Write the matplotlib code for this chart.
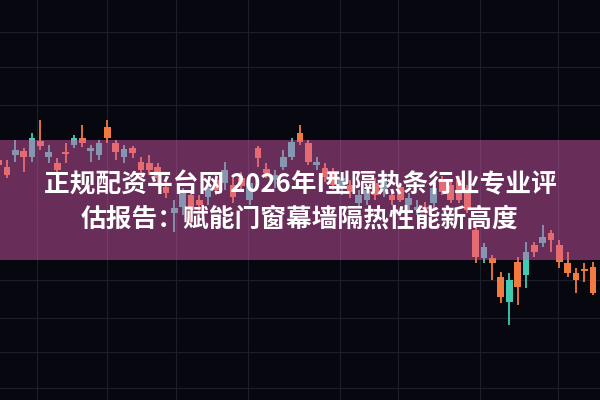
import matplotlib
matplotlib.use("Agg")
import matplotlib.pyplot as plt
import numpy as np

# Candle data (price = 400 - pixel row)
body_top = [160, 167, 150, 151, 138, 141, 152, 163, 152, 138, 138, 148, 143, 127, 143, 149,
            148, 162, 163, 167, 187, 208, 192, 195, 200, 188, 180, 170, 185, 178, 183, 148,
            169, 175, 157, 142, 133, 143, 162, 168, 172, 178, 185, 195, 190, 183, 180, 195,
            187, 198, 207, 207, 188, 180, 185, 180, 188, 230, 247, 258, 277, 280, 262, 252,
            245, 237, 233, 245, 263, 273, 269, 267]
body_bot = [165, 175, 155, 157, 157, 146, 157, 170, 154, 145, 143, 151, 155, 138, 152, 157,
            153, 170, 170, 178, 193, 213, 207, 210, 205, 197, 190, 183, 197, 186, 200, 158,
            173, 180, 167, 157, 142, 162, 165, 177, 185, 188, 192, 203, 200, 195, 192, 200,
            200, 205, 210, 209, 203, 192, 200, 200, 210, 257, 258, 263, 297, 302, 287, 275,
            252, 243, 240, 262, 273, 280, 271, 293]
wick_top = [155, 160, 140, 148, 133, 120, 145, 158, 143, 135, 125, 145, 140, 120, 140, 145,
            146, 157, 155, 163, 180, 200, 188, 190, 195, 183, 175, 162, 178, 172, 178, 146,
            163, 170, 150, 138, 125, 140, 157, 163, 168, 172, 180, 190, 185, 178, 175, 190,
            183, 193, 200, 202, 185, 176, 180, 176, 185, 225, 243, 255, 272, 273, 257, 242,
            242, 225, 230, 240, 252, 268, 263, 262]
wick_bot = [168, 178, 162, 172, 162, 150, 163, 175, 163, 148, 147, 162, 160, 143, 160, 163,
            158, 180, 175, 185, 198, 232, 215, 225, 212, 205, 195, 190, 203, 192, 205, 167,
            178, 188, 170, 160, 145, 165, 170, 182, 190, 195, 198, 208, 205, 200, 197, 205,
            202, 210, 215, 213, 210, 195, 203, 203, 213, 263, 263, 280, 303, 325, 305, 288,
            257, 247, 252, 268, 277, 293, 282, 295]
# 'o' = orange candle, 't' = teal candle
kind = ["o", "o", "t", "o", "t", "o", "t", "o", "o", "t", "o", "t", "t", "o", "o", "t",
        "o", "o", "o", "o", "o", "t", "t", "o", "o", "t", "o", "t", "o", "o", "t", "o",
        "o", "t", "t", "t", "o", "o", "t", "o", "o", "t", "o", "t", "t", "o", "t", "o",
        "o", "t", "t", "o", "t", "o", "o", "o", "o", "o", "t", "o", "o", "t", "o", "t",
        "o", "t", "o", "o", "o", "o", "o", "o"]

title_1 = "正规配资平台网 2026年I型隔热条行业专业评"
title_2 = "估报告：赋能门窗幕墙隔热性能新高度"

H = 400
high = [H - v for v in wick_top]
low = [H - v for v in wick_bot]
top = [H - v for v in body_top]
bot = [H - v for v in body_bot]

colors = {"o": "#f27a3e", "t": "#40cbb2"}
bg = "#06070f"

fig = plt.figure(figsize=(6, 4), dpi=100)
fig.patch.set_facecolor(bg)
ax = fig.add_axes([0, 0, 1, 1])
ax.set_facecolor(bg)

# very faint grid
for gx in [37, 107, 176, 248, 340, 398, 480, 558]:
    ax.axvline((gx + 1.4) / 8.37, color="#1c1e2c", lw=0.8, zorder=0)
for gy in [32, 67, 105, 280, 318, 352, 388]:
    ax.axhline(H - gy, color="#1c1e2c", lw=0.8, zorder=0)

idx = np.arange(len(top))
for i in idx:
    c = colors[kind[i]]
    ax.vlines(i, low[i], high[i], color=c, lw=1.3, zorder=2)
    ax.bar(i, top[i] - bot[i], bottom=bot[i], width=0.8, color=c, zorder=3)

# translucent purple band behind the title
ax.axhspan(H - 260, H - 140, color="#d85cae", alpha=0.47, lw=0, zorder=4)

ax.set_xlim(1.4 / 8.37, 601.4 / 8.37)
ax.set_ylim(0, H)
ax.axis("off")

fam = ["Noto Sans CJK SC", "DejaVu Sans"]
fig.text(0.5, 1 - 185 / 400, title_1, color="white", fontsize=18.5, fontweight="bold",
         family=fam, ha="center", va="center", zorder=10)
fig.text(0.5, 1 - 219 / 400, title_2, color="white", fontsize=18.5, fontweight="bold",
         family=fam, ha="center", va="center", zorder=10)

fig.savefig("out.png", dpi=100, facecolor=fig.get_facecolor())
